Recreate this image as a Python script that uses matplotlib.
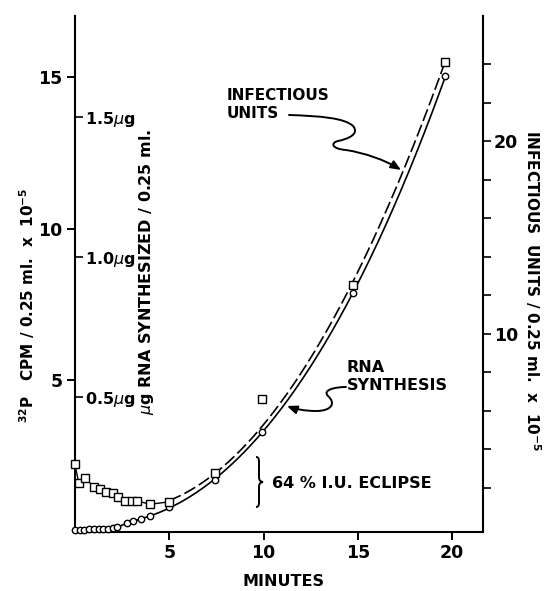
import numpy as np
import matplotlib
matplotlib.use("Agg")
import matplotlib.pyplot as plt
from matplotlib.path import Path
from matplotlib.patches import FancyArrowPatch, PathPatch

plt.rcParams['font.family'] = ['DejaVu Sans']
plt.rcParams['mathtext.fontset'] = 'dejavusans'
plt.rcParams['lines.scale_dashes'] = False

# ---- data ----
rna_t = [0, 0.25, 0.5, 0.75, 1.0, 1.25, 1.5, 1.75, 2.0, 2.25, 2.75, 3.1, 3.5, 4.0, 5.0, 7.45, 9.9, 14.75, 19.65]
rna_cpm = [0.07, 0.07, 0.08, 0.09, 0.09, 0.10, 0.11, 0.11, 0.13, 0.16, 0.29, 0.36, 0.43, 0.53, 0.82, 1.71, 3.31, 7.88, 15.03]

iu_t = [0, 0.2, 0.55, 1.0, 1.3, 1.65, 2.0, 2.3, 2.65, 3.0, 3.3, 4.0, 5.0, 7.45, 9.9, 14.75, 19.6]
iu_val = [3.21, 2.22, 2.48, 2.04, 1.91, 1.78, 1.70, 1.49, 1.30, 1.30, 1.30, 1.13, 1.26, 2.77, 6.59, 12.53, 24.1]

x_ticks = [5, 10, 15, 20]
left_ticks = [5, 10, 15]
right_ticks = list(range(2, 25, 2))
right_labels = ['10' if v == 10 else ('20' if v == 20 else '') for v in right_ticks]
ug_tick_pos = [4.45, 9.07, 13.68]
ug_tick_labels = ['0.5$\\mu$g', '1.0$\\mu$g', '1.5$\\mu$g']

W, H = 552, 591
fig = plt.figure(figsize=(W / 100, H / 100), dpi=100)


def fp(x, y):
    return (x / W, 1 - y / H)


ax = fig.add_axes([75 / W, (H - 532) / H, (483 - 75) / W, (532 - 16) / H])
ax.set_xlim(0, 21.64)
ax.set_ylim(0, 17.01)
ax2 = ax.twinx()
ax2.set_ylim(-0.31, 26.5)
ax3 = ax.twinx()
ax3.set_ylim(ax.get_ylim())

for a in (ax, ax2, ax3):
    for s in a.spines.values():
        s.set_linewidth(1.5)
ax.spines['top'].set_visible(False)
ax.spines['right'].set_visible(False)
for s in ('top', 'left', 'bottom'):
    ax2.spines[s].set_visible(False)
for s in ('top', 'left', 'bottom'):
    ax3.spines[s].set_visible(False)
ax3.spines['right'].set_position(('axes', 0))
ax3.spines['right'].set_visible(False)

ax.set_xticks(x_ticks)
ax.set_yticks(left_ticks)
ax.tick_params(axis='both', direction='out', length=6, width=1.4, labelsize=12.5, pad=3)
ax2.set_yticks(right_ticks)
ax2.set_yticklabels(right_labels)
ax2.tick_params(axis='y', direction='out', length=6, width=1.2, labelsize=12.5, pad=2)
ax3.set_yticks(ug_tick_pos)
ax3.set_yticklabels(ug_tick_labels)
ax3.tick_params(axis='y', direction='out', length=6, width=1.2, labelsize=11.5, pad=1)
for a in (ax, ax2, ax3):
    for lab in a.get_xticklabels() + a.get_yticklabels():
        lab.set_fontweight('bold')

# ---- RNA synthesis (circles, solid curve) ----
t_arr = np.array(rna_t)
c_arr = np.array(rna_cpm)
early = (t_arr >= 2.25) & (t_arr <= 3.5)
ax.plot(t_arr[early], c_arr[early], color='black', lw=1.2)
fit_mask = t_arr >= 3.5
coef = np.polyfit(t_arr[fit_mask], c_arr[fit_mask], 3)
tt = np.linspace(3.5, rna_t[-1], 200)
ax.plot(tt, np.polyval(coef, tt), color='black', lw=1.2)
ax.plot(rna_t, rna_cpm, linestyle='none', marker='o', ms=4.6, mfc='white', mec='black',
        mew=1.0, zorder=5, clip_on=False)

# ---- Infectious units (squares, dashed curve) ----
it = np.array(iu_t)
iv = np.array(iu_val)
m = it <= 5.0
ax2.plot(it[m], iv[m], color='black', lw=1.0, clip_on=False)
fm = it >= 5.0
w = np.where(np.isclose(it[fm], 9.9), 0.35, 1.0)
coef2 = np.polyfit(it[fm], iv[fm], 2, w=w)
tt2 = np.linspace(5.0, iu_t[-1], 200)
ln, = ax2.plot(tt2, np.polyval(coef2, tt2), color='black', lw=1.2)
ln.set_dashes((9, 3))
ax2.plot(iu_t, iu_val, linestyle='none', marker='s', ms=5.6, mfc='white', mec='black',
         mew=1.0, zorder=5, clip_on=False)

# ---- axis labels ----
bold = dict(fontweight='bold', color='black')
fig.text(*fp(284, 581), 'MINUTES', ha='center', va='center', fontsize=11.5, **bold)
fig.text(*fp(27, 305), r'$^{\mathbf{32}}$P   CPM / 0.25 ml.  x  10$^{\mathbf{-5}}$',
         rotation=90, ha='center', va='center', fontsize=11, **bold)
fig.text(*fp(146, 272), r'$\mu$g RNA SYNTHESIZED / 0.25 ml.',
         rotation=90, ha='center', va='center', fontsize=11.5, **bold)
fig.text(*fp(533, 291), r'INFECTIOUS  UNITS / 0.25 ml.  x  10$^{\mathbf{-5}}$',
         rotation=-90, ha='center', va='center', fontsize=11, **bold)

# ---- annotations ----
fig.text(*fp(227, 96), 'INFECTIOUS', ha='left', va='center', fontsize=11, **bold)
fig.text(*fp(227, 114), 'UNITS', ha='left', va='center', fontsize=11, **bold)
fig.text(*fp(347, 367), 'RNA', ha='left', va='center', fontsize=11.5, **bold)
fig.text(*fp(347, 385), 'SYNTHESIS', ha='left', va='center', fontsize=11.5, **bold)
fig.text(*fp(272, 483), '64 % I.U. ECLIPSE', ha='left', va='center', fontsize=11.5, **bold)


def make_path(pts, codes):
    return Path([fp(x, y) for x, y in pts], codes)


C4 = Path.CURVE4
p1 = make_path([(289, 115), (320, 116), (345, 118), (353, 126),
                (360, 134), (348, 139), (338, 141),
                (330, 143), (332, 149), (346, 150),
                (365, 153), (385, 160), (401, 170)],
               [Path.MOVETO] + [C4] * 12)
fig.patches.append(FancyArrowPatch(path=p1, arrowstyle='-|>,head_length=6,head_width=2.5',
                                   lw=1.4, color='black', transform=fig.transFigure))
p2 = make_path([(346, 387), (335, 387), (322, 390), (328, 396),
                (336, 403), (332, 411), (316, 411),
                (305, 411), (295, 409), (287, 406)],
               [Path.MOVETO] + [C4] * 9)
fig.patches.append(FancyArrowPatch(path=p2, arrowstyle='-|>,head_length=6,head_width=2.5',
                                   lw=1.4, color='black', transform=fig.transFigure))
brace = make_path([(256, 457), (258.5, 457), (259, 459), (259, 462), (259, 477),
                   (259, 480), (260, 481.5), (263, 482),
                   (260, 482.5), (259, 484), (259, 487), (259, 502),
                   (259, 505), (258.5, 507), (256, 507)],
                  [Path.MOVETO, C4, C4, C4, Path.LINETO, C4, C4, C4, C4, C4, C4,
                   Path.LINETO, C4, C4, C4])
fig.patches.append(PathPatch(brace, fill=False, lw=1.4, edgecolor='black', transform=fig.transFigure))

fig.savefig('out.png', dpi=100)
